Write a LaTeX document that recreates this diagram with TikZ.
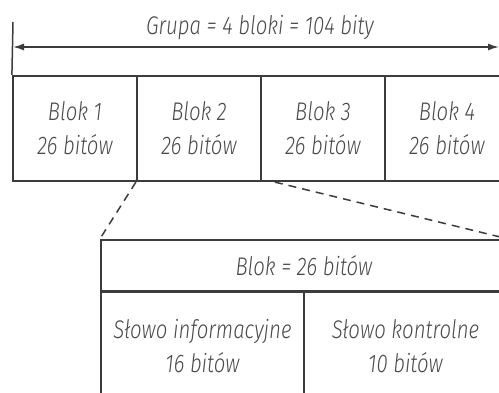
\documentclass[tikz,border=0pt]{standalone}
\usepackage{fontspec}
\newfontfamily\labfont{Fira Sans Light Italic}[FakeStretch=0.8]
\usetikzlibrary{arrows.meta,calc}
\definecolor{ink}{HTML}{3C3C3C}
\definecolor{txt}{HTML}{4A4A4A}
\begin{document}
\begin{tikzpicture}[x=1pt,y=-1pt,
  cell/.style={draw=ink, line width=2.2pt, rectangle, inner sep=0pt, align=center,
    text=txt, font=\labfont\fontsize{25.5}{34}\selectfont},
  blk/.style={cell, minimum width=124pt, minimum height=105pt},
  hdrbox/.style={cell, minimum width=406pt, minimum height=51pt},
  sub/.style={cell, minimum width=203pt, minimum height=108pt},
  lab/.style={text=txt, font=\labfont\fontsize{25.5}{34}\selectfont, inner sep=0pt},
  dim/.style={draw=ink, line width=1.5pt, {Latex[length=11pt,width=7pt]}-{Latex[length=11pt,width=7pt]}},
  zoomline/.style={draw=ink, line width=1.5pt, dash pattern=on 8pt off 6pt}]
\useasboundingbox (0,0) rectangle (499,392);
\node[blk] (b1) at (75,128.5) {Blok 1\\26 bitów};
\node[blk] (b2) at (199,128.5) {Blok 2\\26 bitów};
\node[blk] (b3) at (323,128.5) {Blok 3\\26 bitów};
\node[blk] (b4) at (447,128.5) {Blok 4\\26 bitów};
\coordinate (top) at (13,22);
\draw[ink, line width=1.5pt] (top) -- (b1.north west);
\coordinate (ga) at (13,47);
\coordinate (gb) at (499,47);
\draw[dim] (ga) -- (gb);
\node[lab] (grupa) at (260,28) {Grupa = 4 bloki = 104 bity};
\node[hdrbox] (hdr) at (304,265.5) {Blok = 26 bitów};
\node[sub] (info) at (202.5,346) {Słowo informacyjne\\16 bitów};
\node[sub] (ctrl) at (405.5,346) {Słowo kontrolne\\10 bitów};
\coordinate (d3) at ($(b3.south west)+(15,0)$);
\draw[zoomline] (b2.south west) -- (hdr.north west);
\draw[zoomline] (d3) -- (hdr.north east);
\end{tikzpicture}
\end{document}
